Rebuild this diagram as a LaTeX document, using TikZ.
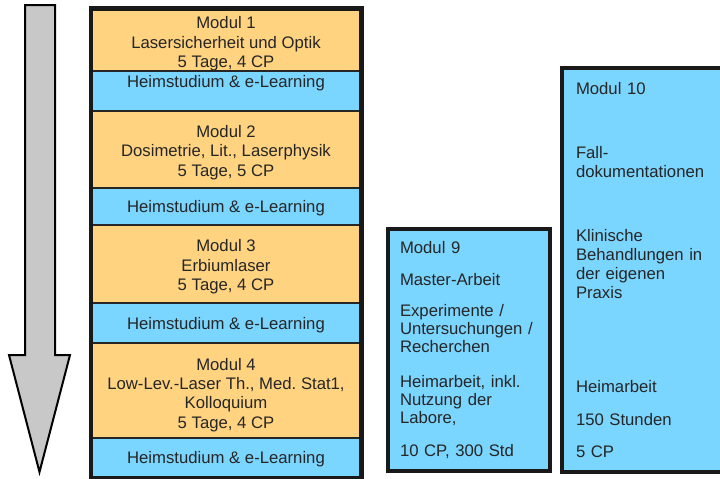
\documentclass[tikz,border=0pt]{standalone}
\usepackage{fontspec}
\setmainfont{Liberation Sans}
\usetikzlibrary{positioning}
\definecolor{modorange}{RGB}{255,211,128}
\definecolor{modblue}{RGB}{122,213,255}
\definecolor{arrowgray}{RGB}{200,200,200}
\frenchspacing

\tikzset{
  row/.style={draw=black!85, line width=2.5pt, minimum width=268pt, inner sep=0pt, align=center,
    font=\fontsize{16.7}{19.3}\selectfont},
  modul/.style={row, fill=modorange},
  heim/.style={row, fill=modblue},
  frame/.style={draw=black!90, line width=4.5pt},
  sidebox/.style={draw=black!90, line width=4.5pt, fill=modblue, align=left, inner ysep=0pt},
}

\begin{document}
\begin{tikzpicture}[x=1pt, y=-1pt, text=black!85]
            \useasboundingbox (0,0) rectangle (720,479);

            % time arrow
            \draw [line width=2pt, fill=arrowgray] (25,5) -- (55,5) -- (55,355) -- (70,355)
                -- (39.5,472) -- (9,355) -- (25,355) -- cycle;

            % modules and home study
            \node [modul, minimum height=61pt] (m1) at (226, 40.5) {\rule{0pt}{19pt}Modul 1\\Lasersicherheit und Optik\\5 Tage, 4 CP};
            \node [heim, minimum height=40pt] (h1) at (226, 91) {Heimstudium \& e-Learning\\ \mbox{}};
            \node [modul, minimum height=77pt] (m2) at (226, 149.5) {\rule{0pt}{18pt}Modul 2\\Dosimetrie, Lit., Laserphysik\\5 Tage, 5 CP};
            \node [heim, minimum height=37pt] (h2) at (226, 206.5) {\rule{0pt}{16pt}Heimstudium \& e-Learning};
            \node [modul, minimum height=78pt] (m3) at (226, 264) {\rule{0pt}{18pt}Modul 3\\Erbiumlaser\\5 Tage, 4 CP};
            \node [heim, minimum height=40pt] (h3) at (226, 323) {\rule{0pt}{16pt}Heimstudium \& e-Learning};
            \node [modul, minimum height=95pt] (m4) at (226, 390.5) {\rule{0pt}{21pt}Modul 4\\Low-Lev.-Laser Th., Med. Stat1,\\Kolloquium\\5 Tage, 4 CP};
            \node [heim, minimum height=39pt] (h4) at (226, 457.5) {\rule{0pt}{16pt}Heimstudium \& e-Learning};

            \draw [frame] (m1.north west) rectangle (h4.south east);

            % master thesis and case studies
            \node [sidebox, minimum height=242pt, text width=138pt, inner xsep=12pt,
                font=\fontsize{16.7}{18}\selectfont] (mod9) at (469, 350)
                {Modul 9\\[14pt] Master-Arbeit\\[13pt] Experimente /\\ Untersuchungen /\\ Recherchen\\[17pt]
                 Heimarbeit, inkl.\\ Nutzung der\\ Labore,\\[15pt] 10 CP, 300 Std};
            \node [sidebox, minimum height=404pt, text width=140pt, inner xsep=14pt,
                font=\fontsize{16.7}{19.3}\selectfont] (mod10) at (646, 270)
                {Modul 10\\[45pt] Fall-\\ dokumentationen\\[44pt] Klinische\\ Behandlungen in\\ der eigenen\\ Praxis\\[74pt]
                 Heimarbeit\\[14pt] 150 Stunden\\[13pt] 5 CP};
        \end{tikzpicture}
\end{document}
